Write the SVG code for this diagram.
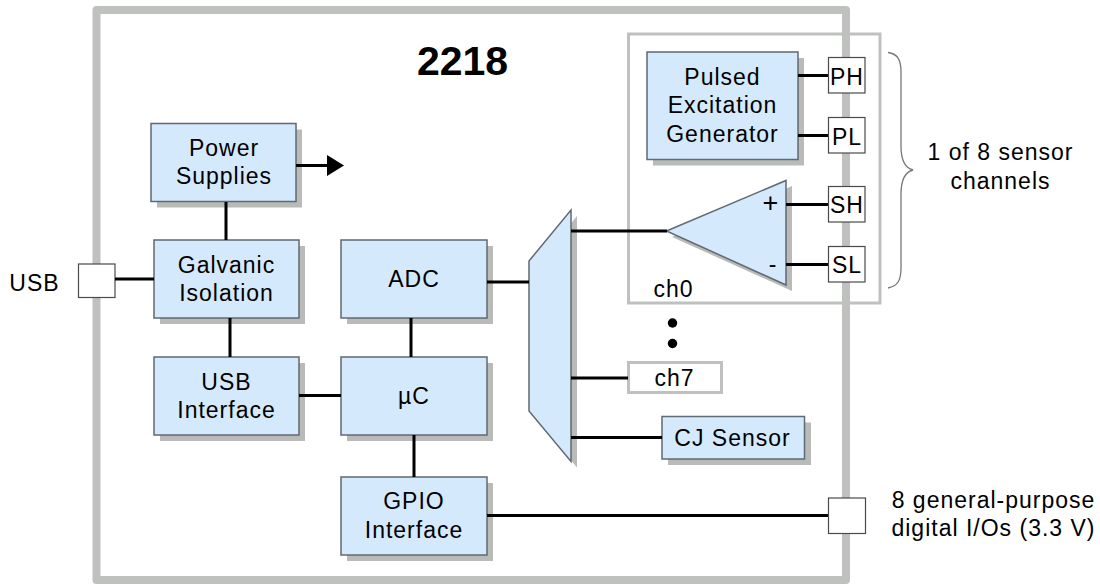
<svg xmlns="http://www.w3.org/2000/svg" width="1100" height="584" viewBox="0 0 1100 584">
<defs>
<style>
text{font-family:"Liberation Sans",Arial,sans-serif;font-size:23px;letter-spacing:1px;fill:#000;text-anchor:middle}
.b{fill:#d5e9fd;stroke:#5f6a72;stroke-width:1.5}
.s{fill:#b9bbb8;stroke:none}
.w{fill:#fff;stroke:#4a4a4a;stroke-width:1.2}
.g{fill:#fff;stroke:#bfc1be;stroke-width:3}
.c{fill:none;stroke:#000;stroke-width:3}
</style>
</defs>
<rect width="1100" height="584" fill="#fff"/>
<rect id="frame" x="96.500" y="10" width="749.500" height="570" fill="none" stroke="#bfc1be" stroke-width="8" stroke-linejoin="round"/>
<text id="title" x="462.500" y="75" style="font-size:41px;font-weight:bold;letter-spacing:0">2218</text>
<g id="ch0"><rect class="g" x="628.500" y="34" width="251.500" height="269" fill-opacity="0"/><text x="673.500" y="297">ch0</text></g>
<rect x="842" y="30" width="8" height="278" fill="#bfc1be"/>
<g id="power"><rect class="s" x="157" y="129.500" width="145" height="78"/><rect class="b" x="151" y="123.500" width="145" height="78"/><text x="224" y="156">Power</text><text x="224" y="184">Supplies</text></g>
<g id="galvanic"><rect class="s" x="160" y="246" width="145" height="78"/><rect class="b" x="154" y="240" width="145" height="78"/><text x="226.500" y="273">Galvanic</text><text x="226.500" y="301">Isolation</text></g>
<g id="usb-port"><rect class="w" x="78.500" y="264" width="36.500" height="33.500"/><text x="34.500" y="291">USB</text></g>
<g id="usb-interface"><rect class="s" x="160" y="363" width="145" height="78"/><rect class="b" x="154" y="357" width="145" height="78"/><text x="226.500" y="390">USB</text><text x="226.500" y="418">Interface</text></g>
<g id="adc"><rect class="s" x="347" y="246" width="146" height="78"/><rect class="b" x="341" y="240" width="146" height="78"/><text x="414" y="287">ADC</text></g>
<g id="uc"><rect class="s" x="347" y="363" width="146" height="78"/><rect class="b" x="341" y="357" width="146" height="78"/><text x="414" y="404">µC</text></g>
<g id="gpio"><rect class="s" x="347" y="483" width="146" height="78"/><rect class="b" x="341" y="477" width="146" height="78"/><text x="414" y="509">GPIO</text><text x="414" y="538">Interface</text></g>
<g id="mux"><path class="s" d="M535 267L577 216V467.500L535 417Z"/><path class="b" d="M529 261L571 210V461.500L529 411Z"/></g>
<g id="pulsed"><rect class="s" x="653" y="58" width="151" height="107.500"/><rect class="b" x="647" y="52" width="151" height="107.500"/><text x="722.500" y="84.500">Pulsed</text><text x="722.500" y="113">Excitation</text><text x="722.500" y="142">Generator</text></g>
<g id="amp"><path class="s" d="M672 237L792 186V291Z"/><path class="b" d="M666.500 231L786 180.500V285Z"/><text x="771" y="212" style="font-size:27px">+</text><text x="773" y="272">-</text></g>
<g id="ch7"><rect class="g" x="628.500" y="362.500" width="93" height="30"/><text x="674.500" y="386">ch7</text></g>
<g id="cj"><rect class="s" x="668" y="422.500" width="143" height="42.500"/><rect class="b" x="662" y="416.500" width="142.500" height="42.500"/><text x="732.500" y="446">CJ Sensor</text></g>
<g id="connectors">
<path class="c" d="M296 165.500H328M226 202V240M115 279H154M230 318V357M299 395.500H341M411 318V357M414 435V477M487 282H529M487 515.500H829M571 231H667M571 378H628M571 437.500H662M798 75.500H829M798 135.500H829M786 204.500H829M786 264.500H829"/>
<path d="M327 155L344 165.500L327 176Z" fill="#000"/>
</g>
<g id="PH"><rect class="w" x="828.500" y="57.500" width="36.500" height="35.500"/><text x="847" y="85">PH</text></g>
<g id="PL"><rect class="w" x="828.500" y="117.500" width="36.500" height="35.500"/><text x="847" y="145">PL</text></g>
<g id="SH"><rect class="w" x="828.500" y="186.500" width="36.500" height="35.500"/><text x="847" y="213">SH</text></g>
<g id="SL"><rect class="w" x="828.500" y="246.500" width="36.500" height="35.500"/><text x="847" y="273">SL</text></g>
<path id="brace" d="M888 52.500C898 54 901 60 901 72V146C901 160 905 168 913 170C905 172 901 180 901 194V268C901 280 898 286 888 288" fill="none" stroke="#777" stroke-width="1.300"/>
<text x="1000.500" y="160">1 of 8 sensor</text><text x="1000.500" y="189">channels</text>
<g id="dots"><circle cx="672.500" cy="323" r="4.700"/><circle cx="672.500" cy="343.500" r="4.700"/></g>
<g id="gpio-port"><rect class="w" x="828.500" y="498" width="37" height="35.500"/></g>
<text x="993.500" y="508">8 general-purpose</text><text x="993.500" y="536">digital I/Os (3.3 V)</text>
</svg>
